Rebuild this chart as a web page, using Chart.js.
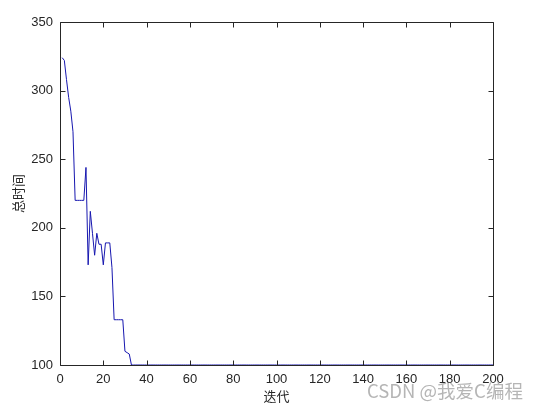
<!DOCTYPE html>
<html>
<head>
<meta charset="utf-8">
<script src="https://cdn.jsdelivr.net/npm/chart.js@4/dist/chart.umd.min.js"></script>
<style>
  html, body { margin: 0; padding: 0; background: #fff; }
  #wrap { position: relative; width: 541px; height: 410px; }
  canvas { display: block; }
</style>
</head>
<body>
<div id="wrap"><canvas id="c" width="541" height="410"></canvas></div>
<script>
// ---- data ----
const iterations = Array.from({ length: 200 }, (_, i) => i + 1);
const totalTime = [
  324, 322, 308, 295, 285, 270, 220, 220, 220, 220,
  220, 244, 173, 212, 196, 180, 196, 188, 188, 173,
  189, 189, 189, 171, 133, 133, 133, 133, 133, 110,
  109, 108, 100, 100, 100, 100, 100, 100, 100, 100,
  100, 100, 100, 100, 100, 100, 100, 100, 100, 100,
  100, 100, 100, 100, 100, 100, 100, 100, 100, 100,
  100, 100, 100, 100, 100, 100, 100, 100, 100, 100,
  100, 100, 100, 100, 100, 100, 100, 100, 100, 100,
  100, 100, 100, 100, 100, 100, 100, 100, 100, 100,
  100, 100, 100, 100, 100, 100, 100, 100, 100, 100,
  100, 100, 100, 100, 100, 100, 100, 100, 100, 100,
  100, 100, 100, 100, 100, 100, 100, 100, 100, 100,
  100, 100, 100, 100, 100, 100, 100, 100, 100, 100,
  100, 100, 100, 100, 100, 100, 100, 100, 100, 100,
  100, 100, 100, 100, 100, 100, 100, 100, 100, 100,
  100, 100, 100, 100, 100, 100, 100, 100, 100, 100,
  100, 100, 100, 100, 100, 100, 100, 100, 100, 100,
  100, 100, 100, 100, 100, 100, 100, 100, 100, 100,
  100, 100, 100, 100, 100, 100, 100, 100, 100, 100,
  100, 100, 100, 100, 100, 100, 100, 100, 100, 100
];
const xTickRange = [0, 200, 20];   // min, max, step
const yTickRange = [100, 350, 50];
const xLabel = '迭代';
const yLabel = '总时间';
const watermark = 'CSDN @我爱C编程';

const AXIS = '#262626';
const TICKFONT = { family: '"Liberation Sans", Arial, sans-serif', size: 13 };
const CJKFONT = { family: '"Noto Sans CJK SC", sans-serif', size: 13 };

// box + inward ticks (MATLAB style)
const boxPlugin = {
  id: 'box',
  afterDraw(chart) {
    const { ctx, chartArea: a, scales } = chart;
    ctx.save();
    ctx.strokeStyle = AXIS;
    ctx.lineWidth = 1;
    const L = Math.round(a.left) + 0.5, R = Math.round(a.right) + 0.5;
    const T = Math.round(a.top) + 0.5, B = Math.round(a.bottom) + 0.5;
    ctx.beginPath();
    ctx.rect(L, T, R - L, B - T);
    const len = 5;
    scales.x.ticks.forEach(t => {
      const px = Math.round(scales.x.getPixelForValue(t.value)) + 0.5;
      ctx.moveTo(px, B); ctx.lineTo(px, B - len);
      ctx.moveTo(px, T); ctx.lineTo(px, T + len);
    });
    scales.y.ticks.forEach(t => {
      const py = Math.round(scales.y.getPixelForValue(t.value)) + 0.5;
      ctx.moveTo(L, py); ctx.lineTo(L + len, py);
      ctx.moveTo(R, py); ctx.lineTo(R - len, py);
    });
    ctx.stroke();
    // watermark
    ctx.font = '18.5px "Noto Sans CJK SC", sans-serif';
    ctx.fillStyle = 'rgba(150,150,150,0.7)';
    ctx.textAlign = 'left';
    ctx.textBaseline = 'middle';
    ctx.fillText(watermark, 367, 391);
    ctx.restore();
  }
};

new Chart(document.getElementById('c'), {
  type: 'line',
  data: {
    labels: iterations,
    datasets: [{
      data: totalTime,
      borderColor: 'rgb(22,22,175)',
      borderWidth: 1,
      pointRadius: 0,
      tension: 0,
      fill: false
    }]
  },
  options: {
    responsive: false,
    animation: false,
    events: [],
    layout: { padding: { left: 0, top: 22, right: 48, bottom: 0 } },
    plugins: { legend: { display: false }, tooltip: { enabled: false } },
    scales: {
      x: {
        type: 'linear',
        min: xTickRange[0], max: xTickRange[1],
        ticks: { stepSize: xTickRange[2], color: AXIS, font: TICKFONT, padding: 7, maxRotation: 0 },
        grid: { display: false, drawTicks: false },
        border: { display: false },
        title: { display: true, text: xLabel, color: AXIS, font: CJKFONT, padding: { top: 0, bottom: 6 } },
        afterFit(s) { s.height = 45; }
      },
      y: {
        type: 'linear',
        min: yTickRange[0], max: yTickRange[1],
        ticks: { stepSize: yTickRange[2], color: AXIS, font: TICKFONT, padding: 7 },
        grid: { display: false, drawTicks: false },
        border: { display: false },
        title: { display: true, text: yLabel, color: AXIS, font: CJKFONT, padding: { top: 10, bottom: 0 } },
        afterFit(s) { s.width = 60; }
      }
    }
  },
  plugins: [boxPlugin]
});
</script>
</body>
</html>
